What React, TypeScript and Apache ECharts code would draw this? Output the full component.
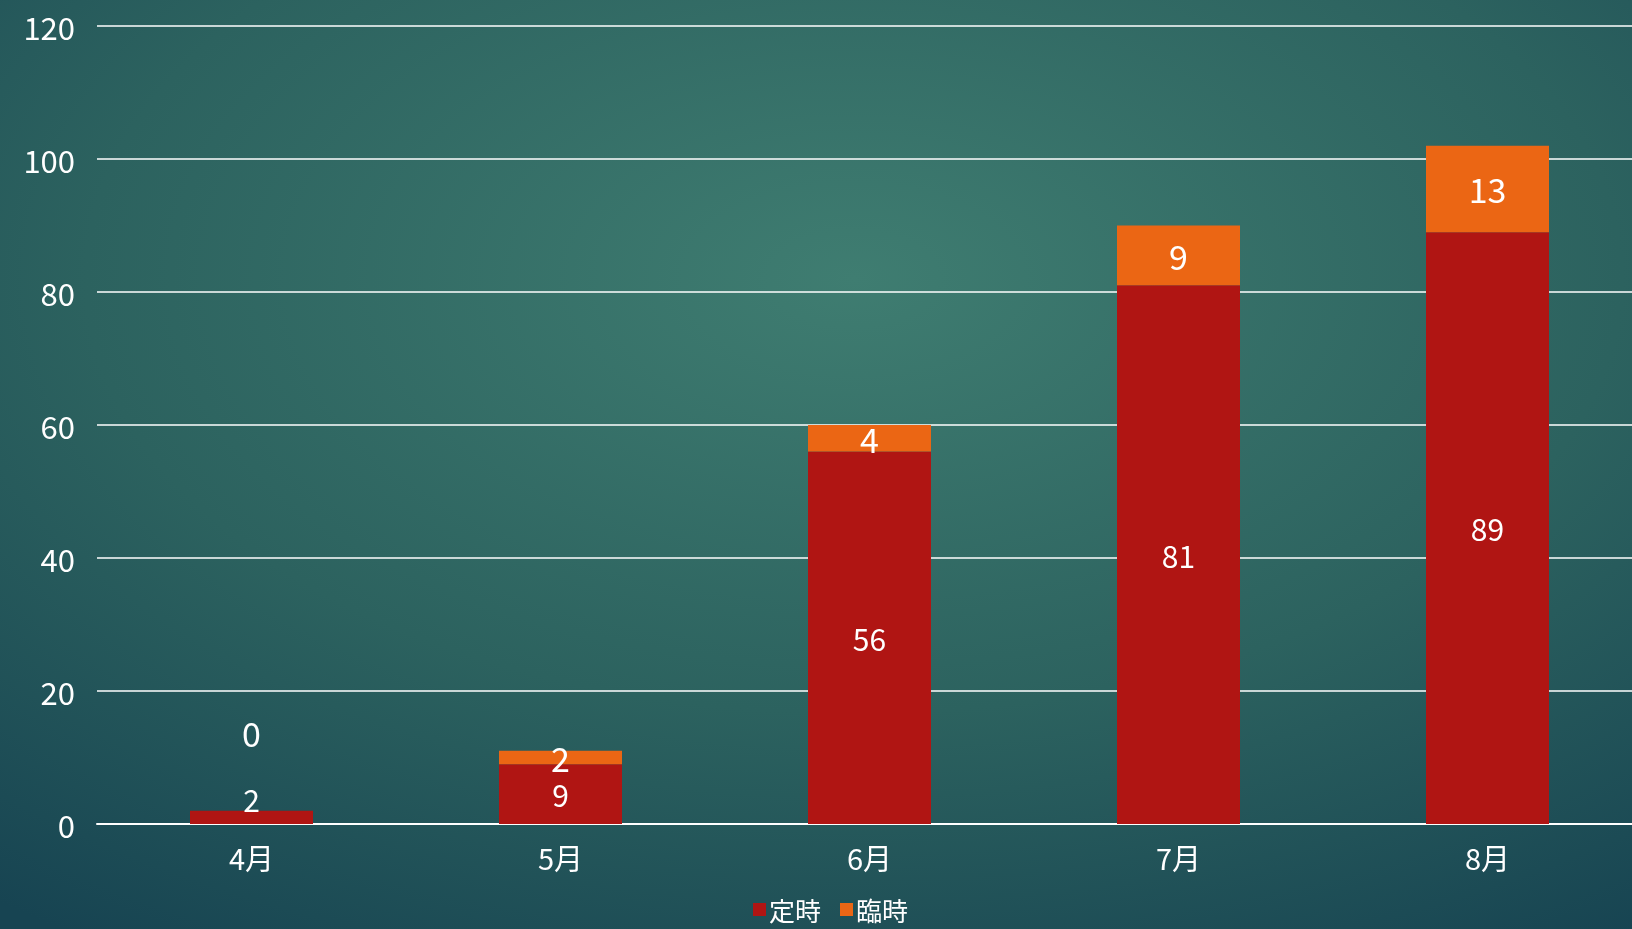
import React, { useEffect, useRef } from "react";
import * as echarts from "echarts";

const categories = ["4月", "5月", "6月", "7月", "8月"];
const teijiValues = [2, 9, 56, 81, 89];
const rinjiValues = [0, 2, 4, 9, 13];
const seriesNames = ["定時", "臨時"];
const yTicks = { min: 0, max: 120, interval: 20 };

const FONT = "'Noto Sans CJK JP', 'Noto Sans', sans-serif";

export default function App() {
  const ref = useRef<HTMLDivElement>(null);
  useEffect(() => {
    if (!ref.current) return;
    const chart = echarts.init(ref.current, undefined, { renderer: "svg" });
    const teijiData = teijiValues.map((v, i) =>
      i === 0 ? { value: v, label: { offset: [0, -18] } } : v
    );
    const rinjiData = rinjiValues.map((v, i) =>
      i === 0 ? { value: v, label: { offset: [0, -78] } } : v
    );
    chart.setOption({
      animation: false,
      backgroundColor: {
        type: "radial",
        x: 0.52,
        y: 0.3,
        r: 0.85,
        colorStops: [
          { offset: 0, color: "#3f7d71" },
          { offset: 0.55, color: "#2c625f" },
          { offset: 1, color: "#174452" },
        ],
      },
      grid: { left: 97, right: 0, top: 26, bottom: 105 },
      legend: {
        left: 753,
        top: 896,
        padding: 0,
        icon: "rect",
        itemWidth: 13,
        itemHeight: 13,
        itemGap: 19,
        textStyle: {
          color: "#ffffff",
          fontSize: 26,
          lineHeight: 27,
          fontFamily: FONT,
          padding: [0, 0, 0, -2],
        },
        data: seriesNames,
      },
      xAxis: {
        type: "category",
        data: categories,
        axisLine: { lineStyle: { color: "#ffffff", width: 2 } },
        axisTick: { show: false },
        axisLabel: { color: "#ffffff", fontSize: 29, fontFamily: FONT, margin: 18 },
      },
      yAxis: {
        type: "value",
        min: yTicks.min,
        max: yTicks.max,
        interval: yTicks.interval,
        axisLine: { show: false },
        axisTick: { show: false },
        axisLabel: {
          color: "#ffffff",
          fontSize: 31,
          fontFamily: FONT,
          margin: 22,
          lineHeight: 31,
          padding: [0, 0, 6, 0],
        },
        splitLine: { lineStyle: { color: "#ffffff", width: 1.5 } },
      },
      series: [
        {
          name: seriesNames[0],
          type: "bar",
          stack: "total",
          barWidth: 123,
          data: teijiData,
          itemStyle: { color: "#b01513" },
          label: {
            show: true,
            position: "inside",
            color: "#ffffff",
            fontSize: 30,
            fontFamily: FONT,
            textBorderWidth: 0,
          },
        },
        {
          name: seriesNames[1],
          type: "bar",
          stack: "total",
          barWidth: 123,
          data: rinjiData,
          itemStyle: { color: "#eb6614" },
          label: {
            show: true,
            position: "inside",
            color: "#ffffff",
            fontSize: 34,
            fontFamily: FONT,
            textBorderWidth: 0,
          },
        },
      ],
    });
    return () => chart.dispose();
  }, []);
  return (
    <div
      ref={ref}
      style={{ position: "fixed", left: 0, top: 0, width: 1642, height: 929 }}
    />
  );
}
